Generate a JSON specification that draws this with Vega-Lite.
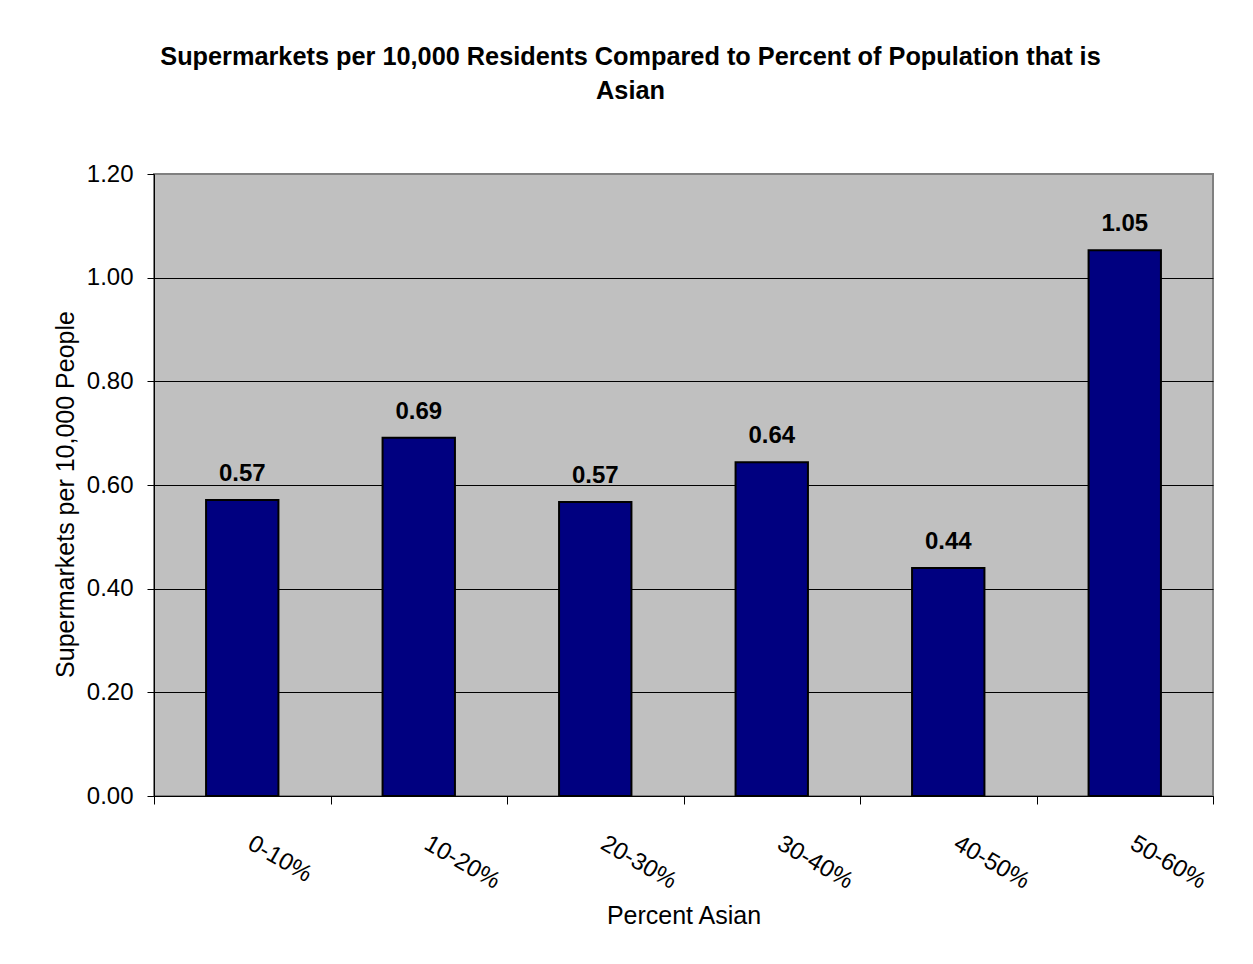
{
  "$schema": "https://vega.github.io/schema/vega-lite/v6.json",
  "autosize": {"type": "none"},
  "width": 1059,
  "height": 622,
  "padding": {"left": 154, "top": 174, "right": 40, "bottom": 168},
  "background": "white",
  "config": {
    "font": "Liberation Sans",
    "view": {"fill": "#C0C0C0", "stroke": "#808080", "strokeWidth": 2}
  },
  "title": {
    "text": ["Supermarkets per 10,000 Residents Compared to Percent of Population that is", "Asian"],
    "font": "Liberation Sans",
    "fontSize": 25.3,
    "fontWeight": "bold",
    "color": "black",
    "anchor": "middle",
    "dx": -53,
    "lineHeight": 34,
    "offset": 58
  },
  "data": {
    "values": [
      {"range": "0-10%", "value": 0.571},
      {"range": "10-20%", "value": 0.691},
      {"range": "20-30%", "value": 0.567},
      {"range": "30-40%", "value": 0.644},
      {"range": "40-50%", "value": 0.440},
      {"range": "50-60%", "value": 1.053}
    ]
  },
  "encoding": {
    "x": {
      "field": "range",
      "type": "nominal",
      "sort": null,
      "scale": {"paddingInner": 0, "paddingOuter": 0},
      "axis": {
        "title": "Percent Asian",
        "titleFont": "Liberation Sans",
        "titleFontSize": 25,
        "titleFontWeight": "normal",
        "titleColor": "black",
        "titleBaseline": "alphabetic",
        "titleY": 127,
        "labelAngle": 30,
        "labelAlign": "left",
        "labelBaseline": "top",
        "labelPadding": 27,
        "labelOffset": 13,
        "labelFont": "Liberation Sans",
        "labelFontSize": 24,
        "labelColor": "black",
        "tickBand": "extent",
        "tickSize": 8,
        "tickColor": "black",
        "domainColor": "black",
        "domainWidth": 1,
        "grid": false
      }
    },
    "y": {
      "field": "value",
      "type": "quantitative",
      "scale": {"domain": [0, 1.2], "nice": false},
      "axis": {
        "title": "Supermarkets per 10,000 People",
        "titleFont": "Liberation Sans",
        "titleFontSize": 25,
        "titleFontWeight": "normal",
        "titleColor": "black",
        "titlePadding": 8,
        "titleY": 320,
        "values": [0, 0.2, 0.4, 0.6, 0.8, 1.0, 1.2],
        "format": ".2f",
        "labelFont": "Liberation Sans",
        "labelFontSize": 24,
        "labelColor": "black",
        "labelPadding": 14,
        "tickSize": 7,
        "tickColor": "black",
        "domainColor": "black",
        "domainWidth": 1,
        "grid": true,
        "gridColor": {"condition": {"test": "datum.value >= 1.2", "value": "#808080"}, "value": "black"},
        "gridWidth": 1,
        "gridOpacity": 1
      }
    }
  },
  "layer": [
    {
      "mark": {"type": "bar", "color": "#000080", "stroke": "black", "strokeWidth": 2, "width": {"band": 0.41}}
    },
    {
      "mark": {"type": "text", "font": "Liberation Sans", "fontSize": 24, "fontWeight": "bold", "color": "black", "baseline": "alphabetic", "align": "center", "dy": -19},
      "encoding": {
        "text": {"field": "value", "type": "quantitative", "format": ".2f"}
      }
    }
  ]
}
